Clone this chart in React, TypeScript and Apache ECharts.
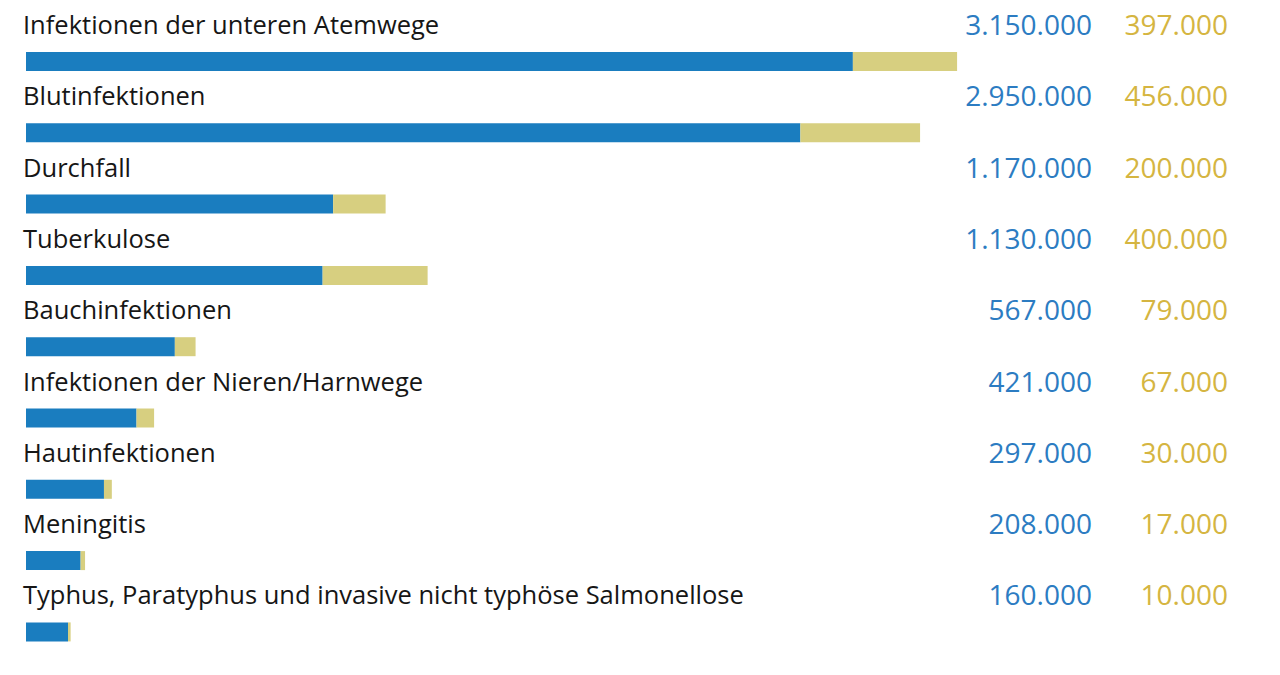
import React, { useEffect, useRef } from "react";
import * as echarts from "echarts";

const categories = [
  "Infektionen der unteren Atemwege",
  "Blutinfektionen",
  "Durchfall",
  "Tuberkulose",
  "Bauchinfektionen",
  "Infektionen der Nieren/Harnwege",
  "Hautinfektionen",
  "Meningitis",
  "Typhus, Paratyphus und invasive nicht typhöse Salmonellose",
];
const blueValues = [3150000, 2950000, 1170000, 1130000, 567000, 421000, 297000, 208000, 160000];
const goldValues = [397000, 456000, 200000, 400000, 79000, 67000, 30000, 17000, 10000];

const BLUE = "#1a7dbf";
const GOLD_BAR = "#d7cf80";
const BLUE_TEXT = "#2c7cc2";
const GOLD_TEXT = "#d5b541";
const FONT = "Open Sans";

const fmt = (n: number) => n.toString().replace(/\B(?=(\d{3})+(?!\d))/g, ".");

export default function App() {
  const ref = useRef<HTMLDivElement>(null);
  useEffect(() => {
    if (!ref.current) return;
    const chart = echarts.init(ref.current, undefined, { renderer: "svg" });
    const band = 71.3;
    const top1 = 25.85;
    const h = band * 9;
    const shift = 37.5;
    chart.setOption({
      animation: false,
      backgroundColor: "#ffffff",
      grid: [
        { left: 26, width: 1050, top: top1, height: h, outerBoundsMode: "none" },
        { left: 23, right: 52, top: top1 - shift, height: h, outerBoundsMode: "none" },
      ],
      xAxis: [
        { type: "value", gridIndex: 0, min: 0, max: 4000000, show: false },
        { type: "value", gridIndex: 1, min: 0, max: 1, show: false },
      ],
      yAxis: [
        {
          type: "category",
          gridIndex: 0,
          data: categories,
          inverse: true,
          show: false,
        },
        {
          type: "category",
          gridIndex: 1,
          data: categories,
          inverse: true,
          position: "left",
          axisLine: { show: false },
          axisTick: { show: false },
          axisLabel: {
            inside: true,
            margin: 0,
            align: "left",
            color: "#161616",
            fontFamily: FONT,
            fontSize: 25.5,
          },
        },
        {
          type: "category",
          gridIndex: 1,
          data: categories,
          inverse: true,
          position: "right",
          axisLine: { show: false },
          axisTick: { show: false },
          axisLabel: {
            inside: true,
            margin: 0,
            align: "right",
            formatter: (_v: string, i: number) =>
              `{a|${fmt(blueValues[i])}}{b|${fmt(goldValues[i])}}`,
            rich: {
              a: { color: BLUE_TEXT, fontFamily: FONT, fontSize: 28, width: 200, align: "right" },
              b: { color: GOLD_TEXT, fontFamily: FONT, fontSize: 28, width: 136, align: "right" },
            },
          },
        },
      ],
      series: [
        {
          type: "bar",
          xAxisIndex: 0,
          yAxisIndex: 0,
          stack: "total",
          data: blueValues,
          barWidth: 19,
          itemStyle: { color: BLUE },
          silent: true,
        },
        {
          type: "bar",
          xAxisIndex: 0,
          yAxisIndex: 0,
          stack: "total",
          data: goldValues,
          barWidth: 19,
          itemStyle: { color: GOLD_BAR },
          silent: true,
        },
      ],
    });
    return () => chart.dispose();
  }, []);
  return <div ref={ref} style={{ width: 1280, height: 675, position: "absolute", left: 0, top: 0 }} />;
}
